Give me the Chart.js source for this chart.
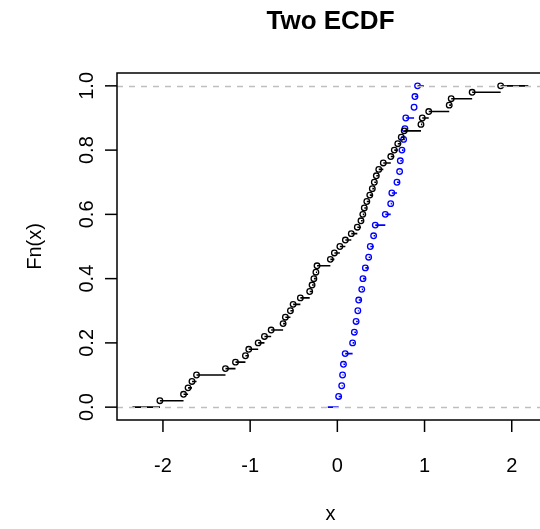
<!DOCTYPE html>
<html><head><meta charset="utf-8">
<script src="https://cdn.jsdelivr.net/npm/chart.js@4.4.0/dist/chart.umd.min.js"></script>
<style>
html,body{margin:0;padding:0;background:#fff;overflow:hidden;}
#wrap{width:560px;height:529px;position:relative;}
</style></head><body>
<div id="wrap"><canvas id="c" width="560" height="529"></canvas></div>
<script>
const chartTitle = "Two ECDF";
const xTitle = "x";
const yTitle = "Fn(x)";
const xTicks = [-2, -1, 0, 1, 2];
const xTickLabels = ["-2", "-1", "0", "1", "2"];
const yTicks = [0, 0.2, 0.4, 0.6, 0.8, 1.0];
const yTickLabels = ["0.0", "0.2", "0.4", "0.6", "0.8", "1.0"];

// sorted sample behind the black ECDF (50 values)
const sampleBlack = [
  -2.035, -1.764, -1.712, -1.667, -1.615, -1.283, -1.168, -1.054, -1.016, -0.908,
  -0.836, -0.759, -0.622, -0.596, -0.538, -0.507, -0.424, -0.317, -0.290, -0.269,
  -0.246, -0.233, -0.080, -0.034, 0.029, 0.092, 0.160, 0.229, 0.271, 0.292,
  0.309, 0.338, 0.372, 0.401, 0.424, 0.447, 0.475, 0.527, 0.613, 0.653,
  0.693, 0.733, 0.767, 0.959, 0.974, 1.048, 1.283, 1.306, 1.546, 1.873
];
// sorted sample behind the blue ECDF (30 values)
const sampleBlue = [
  0.015, 0.050, 0.060, 0.070, 0.090, 0.175, 0.195, 0.215, 0.235, 0.245,
  0.280, 0.294, 0.321, 0.359, 0.378, 0.416, 0.435, 0.550, 0.612, 0.625,
  0.684, 0.714, 0.722, 0.741, 0.760, 0.775, 0.785, 0.880, 0.890, 0.920
];
// x range over which each step function is drawn
const stepRangeBlack = [-2.35, 2.19];
const stepRangeBlue = [-0.11, 0.99];
const xLimits = [-2.527, 2.37];
const yLimits = [-0.04, 1.04];

function ecdfPoints(xs) {
  const n = xs.length;
  return xs.map((v, i) => ({ x: v, y: (i + 1) / n }));
}
function ecdfSegments(xs, range) {
  const n = xs.length;
  const out = [{ x: range[0], y: 0 }, { x: xs[0], y: 0 }, { x: xs[0], y: null }];
  for (let i = 0; i < n; i++) {
    const f = (i + 1) / n;
    const next = i < n - 1 ? xs[i + 1] : range[1];
    out.push({ x: xs[i], y: f }, { x: next, y: f }, { x: next, y: null });
  }
  return out;
}

const FONT = "'Liberation Sans', Arial, sans-serif";

const axesPlugin = {
  id: 'rAxes',
  afterDatasetsDraw(chart) {
    const { ctx, chartArea: a, scales } = chart;
    const ys = scales.y;
    ctx.save();
    ctx.strokeStyle = '#BEBEBE';
    ctx.lineWidth = 1.5;
    ctx.setLineDash([6, 6]);
    [0, 1].forEach(v => {
      const py = Math.round(ys.getPixelForValue(v)) + 0.5;
      ctx.beginPath(); ctx.moveTo(a.left, py); ctx.lineTo(a.right, py); ctx.stroke();
    });
    ctx.restore();
  },
  afterDraw(chart) {
    const { ctx, chartArea: a, scales } = chart;
    const xs = scales.x, ys = scales.y;
    ctx.save();
    ctx.strokeStyle = '#000';
    ctx.lineWidth = 1.5;
    ctx.strokeRect(a.left, a.top, a.right - a.left, a.bottom - a.top);
    ctx.fillStyle = '#000';
    // x ticks
    ctx.font = "20px " + FONT;
    ctx.textAlign = 'center';
    ctx.textBaseline = 'middle';
    xTicks.forEach((v, i) => {
      const px = xs.getPixelForValue(v);
      ctx.beginPath(); ctx.moveTo(px, a.bottom); ctx.lineTo(px, a.bottom + 12); ctx.stroke();
      ctx.fillText(xTickLabels[i], px, a.bottom + 46);
    });
    // y ticks
    yTicks.forEach((v, i) => {
      const py = ys.getPixelForValue(v);
      ctx.beginPath(); ctx.moveTo(a.left - 12, py); ctx.lineTo(a.left, py); ctx.stroke();
      ctx.save();
      ctx.translate(a.left - 30, py);
      ctx.rotate(-Math.PI / 2);
      ctx.fillText(yTickLabels[i], 0, 0);
      ctx.restore();
    });
    // axis titles
    ctx.fillText(xTitle, (a.left + a.right) / 2, a.bottom + 94);
    ctx.save();
    ctx.translate(a.left - 82, (a.top + a.bottom) / 2);
    ctx.rotate(-Math.PI / 2);
    ctx.fillText(yTitle, 0, 0);
    ctx.restore();
    // main title
    ctx.font = "bold 26px " + FONT;
    ctx.fillText(chartTitle, (a.left + a.right) / 2, a.top - 51);
    ctx.restore();
  }
};

new Chart(document.getElementById('c'), {
  type: 'scatter',
  data: {
    datasets: [
      {
        data: ecdfSegments(sampleBlack, stepRangeBlack),
        showLine: true, spanGaps: false,
        borderColor: '#000', borderWidth: 1.6, pointRadius: 0
      },
      {
        data: ecdfPoints(sampleBlack),
        showLine: false, pointRadius: 2.8, pointBorderWidth: 1.3,
        pointBorderColor: '#000', pointBackgroundColor: 'rgba(0,0,0,0)'
      },
      {
        data: ecdfSegments(sampleBlue, stepRangeBlue),
        showLine: true, spanGaps: false,
        borderColor: '#0000FF', borderWidth: 1.6, pointRadius: 0
      },
      {
        data: ecdfPoints(sampleBlue),
        showLine: false, pointRadius: 2.8, pointBorderWidth: 1.3,
        pointBorderColor: '#0000FF', pointBackgroundColor: 'rgba(0,0,0,0)'
      }
    ]
  },
  options: {
    responsive: false,
    animation: false,
    events: [],
    layout: { padding: { left: 117, top: 73, right: 16, bottom: 109 } },
    plugins: { legend: { display: false }, tooltip: { enabled: false }, title: { display: false } },
    scales: {
      x: { type: 'linear', display: false, min: xLimits[0], max: xLimits[1] },
      y: { type: 'linear', display: false, min: yLimits[0], max: yLimits[1] }
    }
  },
  plugins: [axesPlugin]
});
</script>
</body></html>
